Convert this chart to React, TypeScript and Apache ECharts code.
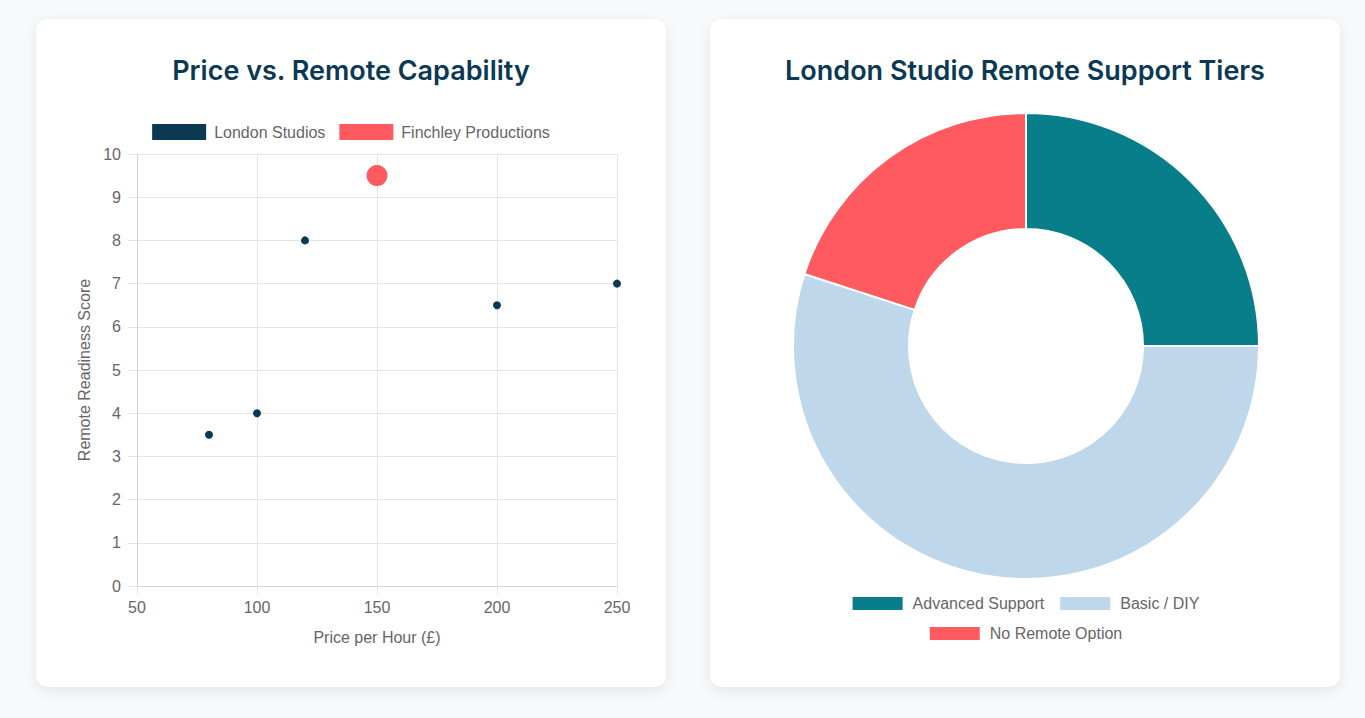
import React, { useEffect, useRef } from "react";
import * as echarts from "echarts";

const londonPrices = [80, 100, 120, 200, 250];
const londonScores = [3.5, 4, 8, 6.5, 7];
const finchleyPrices = [150];
const finchleyScores = [9.5];

const tierNames = ["Advanced Support", "Basic / DIY", "No Remote Option"];
const tierValues = [25, 55, 20];

const NAVY = "#0b3954";
const RED = "#ff5a5f";
const TEAL = "#087e8b";
const LIGHT = "#bfd7ea";
const TXT = "#666666";
const GRID = "#e5e5e5";
const SANS = "'Liberation Sans', Arial, Helvetica, sans-serif";

const cardStyle: React.CSSProperties = {
  position: "absolute",
  top: 19,
  width: 630,
  height: 668,
  background: "#ffffff",
  borderRadius: 12,
  boxShadow: "0 4px 14px rgba(0,0,0,0.08)",
  overflow: "hidden",
};

const titleStyle = { fontFamily: "Inter, sans-serif", fontWeight: 600, fontSize: 27, color: NAVY };

function ScatterChart() {
  const ref = useRef<HTMLDivElement>(null);
  useEffect(() => {
    const chart = echarts.init(ref.current!, undefined, { renderer: "svg" });
    chart.setOption({
      animation: false,
      title: {
        text: "Price vs. Remote Capability",
        left: "center",
        top: 33,
        textStyle: titleStyle,
      },
      legend: {
        top: 100,
        left: "center",
        itemWidth: 54,
        itemHeight: 16,
        itemGap: 14,
        icon: "rect",
        textStyle: { fontFamily: SANS, fontSize: 16, color: TXT, padding: [0, 0, 0, 3] },
        data: ["London Studios", "Finchley Productions"],
      },
      grid: { left: 101, right: 49, top: 135, bottom: 101, containLabel: false },
      xAxis: {
        type: "value",
        min: 50,
        max: 250,
        interval: 50,
        name: "Price per Hour (£)",
        nameLocation: "middle",
        nameGap: 43,
        nameTextStyle: { fontFamily: SANS, fontSize: 16, color: TXT },
        axisLine: { show: true, lineStyle: { color: "#d4d4d4" } },
        axisTick: { show: true, length: 9, lineStyle: { color: GRID } },
        axisLabel: { fontFamily: SANS, fontSize: 16, color: TXT, margin: 13 },
        splitLine: { show: true, lineStyle: { color: GRID } },
      },
      yAxis: {
        type: "value",
        min: 0,
        max: 10,
        interval: 1,
        name: "Remote Readiness Score",
        nameLocation: "middle",
        nameGap: 44,
        nameTextStyle: { fontFamily: SANS, fontSize: 16, color: TXT },
        axisLine: { show: true, lineStyle: { color: "#d4d4d4" } },
        axisTick: { show: true, length: 9, lineStyle: { color: GRID } },
        axisLabel: { fontFamily: SANS, fontSize: 16, color: TXT, margin: 16 },
        splitLine: { show: true, lineStyle: { color: GRID } },
      },
      series: [
        {
          name: "London Studios",
          type: "scatter",
          symbolSize: 8,
          itemStyle: { color: NAVY, opacity: 1 },
          data: londonPrices.map((p, i) => [p, londonScores[i]]),
        },
        {
          name: "Finchley Productions",
          type: "scatter",
          symbolSize: 21,
          itemStyle: { color: RED, opacity: 1 },
          data: finchleyPrices.map((p, i) => [p, finchleyScores[i]]),
        },
      ],
    });
    return () => chart.dispose();
  }, []);
  return <div ref={ref} style={{ width: 630, height: 668 }} />;
}

function DonutChart() {
  const ref = useRef<HTMLDivElement>(null);
  useEffect(() => {
    const chart = echarts.init(ref.current!, undefined, { renderer: "svg" });
    const legendBase = {
      left: "center",
      itemWidth: 52,
      itemHeight: 15,
      itemGap: 14,
      icon: "rect",
      textStyle: { fontFamily: SANS, fontSize: 16, color: TXT, padding: [0, 0, 0, 4] },
    };
    chart.setOption({
      animation: false,
      title: {
        text: "London Studio Remote Support Tiers",
        left: "center",
        top: 33,
        textStyle: titleStyle,
      },
      legend: [
        { ...legendBase, top: 571, data: [tierNames[0], tierNames[1]] },
        { ...legendBase, top: 601, data: [tierNames[2]] },
      ],
      series: [
        {
          type: "pie",
          center: [316, 327],
          radius: [117, 233],
          startAngle: 90,
          clockwise: true,
          label: { show: false },
          labelLine: { show: false },
          emphasis: { disabled: true },
          itemStyle: { borderColor: "#ffffff", borderWidth: 2 },
          color: [TEAL, LIGHT, RED],
          data: tierNames.map((n, i) => ({ name: n, value: tierValues[i] })),
        },
      ],
    });
    return () => chart.dispose();
  }, []);
  return <div ref={ref} style={{ width: 630, height: 668 }} />;
}

export default function App() {
  return (
    <div
      style={{
        position: "fixed",
        left: 0,
        top: 0,
        width: 1365,
        height: 718,
        background: "#f7f9fb",
        overflow: "hidden",
      }}
    >
      <div style={{ ...cardStyle, left: 36 }}>
        <ScatterChart />
      </div>
      <div style={{ ...cardStyle, left: 710 }}>
        <DonutChart />
      </div>
    </div>
  );
}
